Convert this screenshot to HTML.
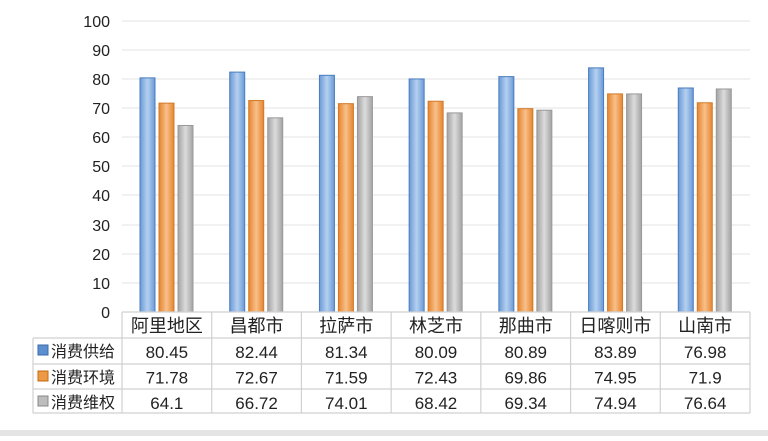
<!DOCTYPE html>
<html><head><meta charset="utf-8"><style>
body{margin:0;background:#fff;}
svg text{font-family:"Liberation Sans","Noto Sans CJK SC",sans-serif;}
</style></head><body>
<svg width="768" height="436" viewBox="0 0 768 436" xmlns="http://www.w3.org/2000/svg">
<defs>
<linearGradient id="gb" x1="0" x2="1"><stop offset="0" stop-color="#6a9ad6"/><stop offset=".5" stop-color="#b5d0f0"/><stop offset="1" stop-color="#6a9ad6"/></linearGradient>
<linearGradient id="go" x1="0" x2="1"><stop offset="0" stop-color="#e5852e"/><stop offset=".5" stop-color="#f8c08a"/><stop offset="1" stop-color="#e5852e"/></linearGradient>
<linearGradient id="gg" x1="0" x2="1"><stop offset="0" stop-color="#a3a3a3"/><stop offset=".5" stop-color="#dcdcdc"/><stop offset="1" stop-color="#a3a3a3"/></linearGradient>
</defs>
<rect x="0" y="430" width="768" height="6" fill="#e4e4e4"/>
<g stroke="#e3e3e3" stroke-width="1">
<line x1="122" x2="750" y1="21" y2="21"/><line x1="122" x2="750" y1="50" y2="50"/><line x1="122" x2="750" y1="79" y2="79"/><line x1="122" x2="750" y1="108" y2="108"/><line x1="122" x2="750" y1="137" y2="137"/><line x1="122" x2="750" y1="166" y2="166"/><line x1="122" x2="750" y1="195" y2="195"/><line x1="122" x2="750" y1="225" y2="225"/><line x1="122" x2="750" y1="254" y2="254"/><line x1="122" x2="750" y1="283" y2="283"/>
</g>
<g font-size="16" fill="#222" text-anchor="end">
<text x="110" y="27">100</text><text x="110" y="56">90</text><text x="110" y="85">80</text><text x="110" y="114">70</text><text x="110" y="143">60</text><text x="110" y="172">50</text><text x="110" y="201">40</text><text x="110" y="231">30</text><text x="110" y="260">20</text><text x="110" y="289">10</text><text x="110" y="318">0</text>
</g>
<g id="bars" stroke-width="1"></g>
<g stroke="#d0d0d0" stroke-width="1.2" fill="none">
<line x1="122" x2="750" y1="312" y2="312"/>
<line x1="33" x2="750" y1="338" y2="338"/>
<line x1="33" x2="750" y1="364" y2="364"/>
<line x1="33" x2="750" y1="389" y2="389"/>
<line x1="33" x2="750" y1="413" y2="413"/>
<line x1="33" x2="33" y1="338" y2="413"/>
</g>
<g id="tbl" fill="#222" text-anchor="middle"></g>
<g font-size="16" fill="#222">
<rect x="38" y="345" width="10" height="10" fill="#5b8fd0" stroke="#3c6aa8"/><text x="51" y="357">消费供给</text>
<rect x="38" y="371" width="10" height="10" fill="#ee9a45" stroke="#c06a10"/><text x="51" y="383">消费环境</text>
<rect x="38" y="396" width="10" height="10" fill="#bdbdbd" stroke="#888"/><text x="51" y="408">消费维权</text>
</g>
<script>
var cats=["阿里地区","昌都市","拉萨市","林芝市","那曲市","日喀则市","山南市"];
var d=[[80.45,71.78,64.1],[82.44,72.67,66.72],[81.34,71.59,74.01],[80.09,72.43,68.42],[80.89,69.86,69.34],[83.89,74.95,74.94],[76.98,71.9,76.64]];
var fills=["url(#gb)","url(#go)","url(#gg)"],strokes=["#4a7cc0","#d27a28","#999"];
var ns="http://www.w3.org/2000/svg",b=document.getElementById("bars"),t=document.getElementById("tbl");
var cw=(750-122)/7;
function el(n,a,p,tx){var e=document.createElementNS(ns,n);for(var k in a)e.setAttribute(k,a[k]);if(tx!==undefined)e.textContent=tx;p.appendChild(e);return e;}
for(var i=0;i<7;i++){var L=122+i*cw;
 for(var j=0;j<3;j++){var h=d[i][j]*2.91;el("rect",{x:L+18+j*19,y:312-h,width:15,height:h,fill:fills[j],stroke:strokes[j]},b);}
 el("line",{x1:L,x2:L,y1:312,y2:413,stroke:"#d0d0d0","stroke-width":1.2},t);
 el("text",{x:L+cw/2,y:332,"font-size":18},t,cats[i]);
 for(var j=0;j<3;j++)el("text",{x:L+cw/2,y:358+j*25.5,"font-size":17},t,String(d[i][j]));
}
el("line",{x1:750,x2:750,y1:312,y2:413,stroke:"#d0d0d0","stroke-width":1.2},t);
</script>
</svg>
</body></html>
